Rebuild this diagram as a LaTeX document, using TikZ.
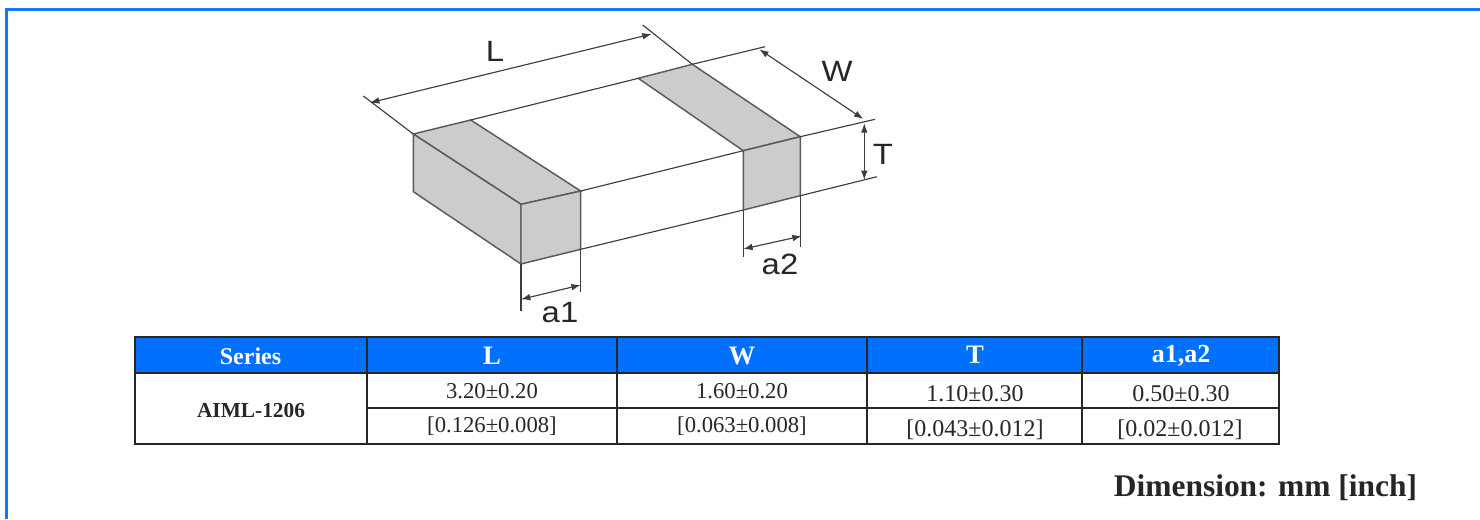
\documentclass[tikz,border=0pt]{standalone}
\usepackage{fontspec}
\setmainfont{Liberation Serif}
\newfontfamily\dimfont{Liberation Sans}
\usetikzlibrary{arrows.meta}
\definecolor{hdrblue}{RGB}{0,112,255}
\definecolor{frameblue}{RGB}{15,120,255}
\definecolor{bandgray}{RGB}{204,204,204}
\definecolor{linegray}{RGB}{60,60,60}
\definecolor{edgegray}{RGB}{90,90,90}
\newcommand{\dimtext}[1]{\scalebox{1.12}[1]{#1}}
\tikzset{
  x=0.75pt,y=-0.75pt,
  thinline/.style={draw=linegray,line width=0.85pt},
  bandedge/.style={draw=edgegray,line width=1.1pt,fill=bandgray},
  dimline/.style={draw=linegray,line width=0.85pt,{Latex[length=7pt,width=5pt]}-{Latex[length=7pt,width=5pt]}},
  dimlabel/.style={font=\dimfont\fontsize{22}{22}\selectfont,text=black!85,inner sep=0pt},
  rule/.style={draw=black!85,line width=1.6pt},
  hdrcell/.style={font=\bfseries\fontsize{18}{20}\selectfont,text=white,inner sep=0pt},
  bodycell/.style={font=\fontsize{17}{20}\selectfont,text=black!85,inner sep=0pt},
  widecell/.style={font=\fontsize{18}{20}\selectfont,text=black!85,inner sep=0pt},
  keycell/.style={font=\bfseries\fontsize{16}{20}\selectfont,text=black!85,inner sep=0pt}
}
\begin{document}
\begin{tikzpicture}
\useasboundingbox (0,0) rectangle (1480,519);
% frame
\draw[frameblue,line width=2.25pt] (6.3,519) -- (6.3,9.5) -- (1480,9.5);
% body corners
\coordinate (A) at (413.3,134);
\coordinate (B) at (470.7,120);
\coordinate (C) at (521,204.3);
\coordinate (D) at (580.7,191);
\coordinate (E) at (521,264);
\coordinate (F) at (413.3,191.7);
\coordinate (G) at (580.7,249.3);
\coordinate (H) at (638.3,78.3);
\coordinate (I) at (692.3,64.3);
\coordinate (J) at (743.3,150.7);
\coordinate (K) at (800.3,136.7);
\coordinate (M) at (743.3,210);
\coordinate (N) at (800.3,195.7);
% extension end points
\coordinate (Lx1) at (363.3,96);
\coordinate (Lx2) at (642.7,25);
\coordinate (Wx1) at (765,46.7);
\coordinate (Wx2) at (875,119.3);
\coordinate (Tx2) at (877,176.7);
\coordinate (a1x1) at (521,310.7);
\coordinate (a1x2) at (580.7,291.7);
\coordinate (a2x1) at (743.3,257.3);
\coordinate (a2x2) at (800.3,246.7);
% bands
\draw[bandedge] (A) -- (B) -- (D) -- (C) -- cycle;
\draw[bandedge] (A) -- (C) -- (E) -- (F) -- cycle;
\draw[bandedge] (C) -- (D) -- (G) -- (E) -- cycle;
\draw[bandedge] (H) -- (I) -- (K) -- (J) -- cycle;
\draw[bandedge] (J) -- (K) -- (N) -- (M) -- cycle;
% long edges and extensions
\draw[thinline] (B) -- (H);
\draw[thinline] (I) -- (Wx1);
\draw[thinline] (D) -- (J);
\draw[thinline] (K) -- (Wx2);
\draw[thinline] (G) -- (M);
\draw[thinline] (N) -- (Tx2);
\draw[thinline] (A) -- (Lx1);
\draw[thinline] (I) -- (Lx2);
\draw[thinline] (E) -- (a1x1);
\draw[thinline] (G) -- (a1x2);
\draw[thinline] (M) -- (a2x1);
\draw[thinline] (N) -- (a2x2);
% dimension arrows
\coordinate (La) at (370,102.7);
\coordinate (Lb) at (651.7,34);
\coordinate (Wa) at (759.3,49.3);
\coordinate (Wb) at (863.3,119);
\coordinate (Ta) at (864.3,123.3);
\coordinate (Tb) at (864.3,180);
\coordinate (a1a) at (521,299.3);
\coordinate (a1b) at (580.7,285);
\coordinate (a2a) at (743.3,249);
\coordinate (a2b) at (801.7,236);
\draw[dimline] (La) -- (Lb);
\draw[dimline] (Wa) -- (Wb);
\draw[dimline] (Ta) -- (Tb);
\draw[dimline] (a1a) -- (a1b);
\draw[dimline] (a2a) -- (a2b);
\node[dimlabel] (lL) at (495,51) {\dimtext{L}};
\node[dimlabel] (lW) at (837,71.5) {\dimtext{W}};
\node[dimlabel] (lT) at (883,154) {\dimtext{T}};
\node[dimlabel] (la1) at (560,313) {\dimtext{a1}};
\node[dimlabel] (la2) at (780,264) {\dimtext{a2}};
% table
\fill[hdrblue] (135,337) rectangle (1279,373);
\draw[rule] (135,336.7) rectangle (1279,444);
\draw[rule] (135,373) -- (1279,373);
\draw[rule] (367,408) -- (1279,408);
\draw[rule] (367,336.7) -- (367,444);
\draw[rule] (617,336.7) -- (617,444);
\draw[rule] (867,336.7) -- (867,444);
\draw[rule] (1082,336.7) -- (1082,444);
\node[hdrcell] (h1) at (250.5,356) {Series};
\node[hdrcell] (h2) at (492,356) {\fontsize{20}{20}\selectfont L};
\node[hdrcell] (h3) at (742,356) {\fontsize{20}{20}\selectfont W};
\node[hdrcell] (h4) at (975,355) {\fontsize{20}{20}\selectfont T};
\node[hdrcell] (h5) at (1181,356) {\fontsize{19.5}{20}\selectfont a1,a2};
\node[keycell] (k) at (251,410) {AIML-1206};
\node[bodycell] (c11) at (492,391.5) {3.20±0.20};
\node[bodycell] (c12) at (742,391.5) {1.60±0.20};
\node[widecell] (c13) at (975,394) {1.10±0.30};
\node[widecell] (c14) at (1181,394) {0.50±0.30};
\node[bodycell] (c21) at (492,426.5) {[0.126±0.008]};
\node[bodycell] (c22) at (742,426.5) {[0.063±0.008]};
\node[widecell] (c23) at (975,429.5) {[0.043±0.012]};
\node[widecell] (c24) at (1180,429.5) {[0.02±0.012]};
\node[font=\bfseries\fontsize{23.6}{26}\selectfont,text=black!85,inner sep=0pt] (dim) at (1265.5,487.5) {Dimension: mm [inch]};
\end{tikzpicture}
\end{document}
